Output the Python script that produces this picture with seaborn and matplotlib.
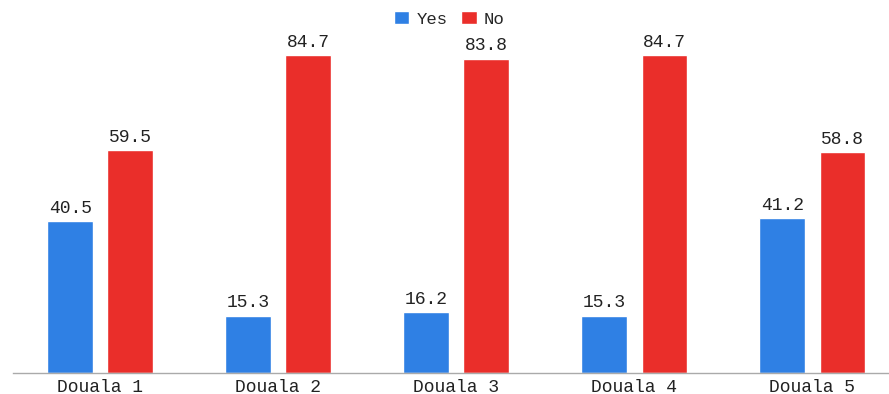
import matplotlib
matplotlib.use("Agg")
import matplotlib.pyplot as plt
import seaborn as sns
import pandas as pd

categories = ["Douala 1", "Douala 2", "Douala 3", "Douala 4", "Douala 5"]
yes_values = [40.5, 15.3, 16.2, 15.3, 41.2]
no_values = [59.5, 84.7, 83.8, 84.7, 58.8]
series = ["Yes", "No"]

df = pd.DataFrame({
    "cat": categories * 2,
    "val": yes_values + no_values,
    "series": [series[0]] * len(categories) + [series[1]] * len(categories),
})

sns.set_theme(style="white")
plt.rcParams["font.family"] = ["Liberation Mono", "DejaVu Sans Mono"]

fig = plt.figure(figsize=(8.89, 3.94), dpi=100)
ax = fig.add_axes([13 / 889, 1 - 373 / 394, (889 - 13) / 889, (373 - 30) / 394])

palette = {"Yes": "#2F80E4", "No": "#EA2E2A"}
sns.barplot(data=df, x="cat", y="val", hue="series", palette=palette,
            width=0.676, gap=0.237, saturation=1, ax=ax, legend=True)

for cont in ax.containers:
    ax.bar_label(cont, fmt="%.1f", padding=3, fontsize=13, color="#222222")

ax.set_xlim(-0.49, 4.43)
ax.set_ylim(0, 91.4)
ax.set_xlabel("")
ax.set_ylabel("")
ax.set_yticks([])
for s in ["top", "right", "left"]:
    ax.spines[s].set_visible(False)
ax.spines["bottom"].set_color("#aaaaaa")
ax.spines["bottom"].set_linewidth(1)
ax.tick_params(axis="x", length=0, labelsize=13, colors="#222222", pad=4)

leg = ax.legend(loc="center", bbox_to_anchor=(0.498, 1 + 11 / 343), ncol=2,
                frameon=False, fontsize=12.5, handlelength=0.9, handleheight=0.7,
                handletextpad=0.4, columnspacing=0.8, borderpad=0)

fig.savefig("out.png", dpi=100, facecolor="white")
